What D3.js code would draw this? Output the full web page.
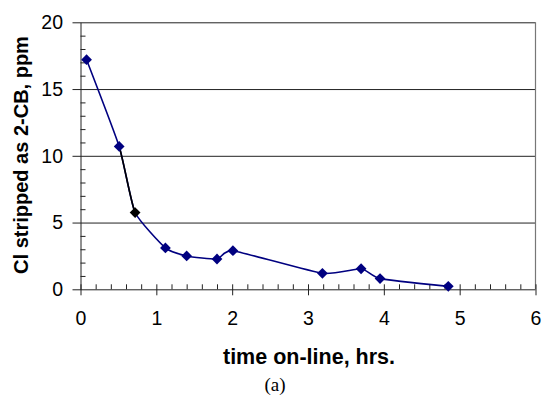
<!DOCTYPE html>
<html>
<head>
<meta charset="utf-8">
<script src="https://cdn.jsdelivr.net/npm/d3@7"></script>
<style>
  html, body { margin: 0; padding: 0; background: #fff; }
  svg { display: block; }
  text { font-family: Arial, "Liberation Sans", sans-serif; fill: #000; }
</style>
</head>
<body>
<svg id="chart" width="545" height="397"></svg>
<script>
// Time on-line (hrs) and chlorine stripped as 2-CB (ppm)
const timeHrs = [0.08, 0.51, 0.72, 1.12, 1.40, 1.80, 2.01, 3.19, 3.70, 3.95, 4.85];
const clPpm   = [17.2, 10.7, 5.75, 3.10, 2.50, 2.27, 2.89, 1.20, 1.54, 0.80, 0.22];
// Index of the sample drawn in black (its marker and the segment leading into it)
const highlightIndex = 2;

const xTicks = [0, 1, 2, 3, 4, 5, 6];
const yTicks = [0, 5, 10, 15, 20];
const xMinorTicks = d3.range(0, 6.001, 0.2).filter(v => Math.abs(v - Math.round(v)) > 1e-6);
const yMinorTicks = d3.range(1, 20).filter(v => v % 5 !== 0);

const xTitle = "time on-line, hrs.";
const yTitle = "Cl stripped as 2-CB, ppm";
const caption = "(a)";

const svg = d3.select("#chart");
const plotLeft = 80.5, plotRight = 535.5, plotTop = 22.3, plotBottom = 289.3;
const x = d3.scaleLinear().domain([0, 6]).range([plotLeft, plotRight]);
const y = d3.scaleLinear().domain([0, 20]).range([plotBottom, plotTop]);
const plotW = plotRight - plotLeft;

const navy = "#000080";
const gridColor = "#222";
const tickFont = "19.5px";

// horizontal gridlines (extend through the outer major ticks)
svg.append("g")
  .attr("transform", `translate(${plotLeft - 8},0)`)
  .call(d3.axisLeft(y).tickValues(yTicks).tickSize(-(plotW + 8)).tickFormat(""))
  .call(g => g.select(".domain").remove())
  .call(g => g.selectAll(".tick line").attr("stroke", gridColor).attr("stroke-width", 1));

// right border of the plot
svg.append("line")
  .attr("x1", plotRight).attr("x2", plotRight)
  .attr("y1", y(20)).attr("y2", y(0))
  .attr("stroke", "#777").attr("stroke-width", 1.2);

// y axis: labels and minor ticks (inside)
svg.append("g")
  .attr("transform", `translate(${plotLeft},0)`)
  .call(d3.axisLeft(y).tickValues(yTicks).tickFormat(d3.format("d")).tickSize(8).tickPadding(9.5).tickSizeOuter(0))
  .call(g => g.select(".domain").attr("stroke", gridColor))
  .call(g => g.selectAll(".tick line").remove())
  .call(g => g.selectAll("text").style("font-size", tickFont).style("font-family", "Arial, 'Liberation Sans', sans-serif"));

svg.append("g")
  .attr("transform", `translate(${plotLeft},0)`)
  .call(d3.axisRight(y).tickValues(yMinorTicks).tickSize(5).tickFormat("").tickSizeOuter(0))
  .call(g => g.select(".domain").remove())
  .call(g => g.selectAll(".tick line").attr("stroke", gridColor));

// x axis: major ticks crossing the axis, minor ticks inside
svg.append("g")
  .attr("transform", `translate(0,${plotBottom})`)
  .call(d3.axisBottom(x).tickValues(xTicks).tickFormat(d3.format("d")).tickSize(6).tickPadding(15.5).tickSizeOuter(0))
  .call(g => g.select(".domain").remove())
  .call(g => g.selectAll(".tick line").attr("y1", -5).attr("stroke", gridColor))
  .call(g => g.selectAll("text").style("font-size", tickFont).style("font-family", "Arial, 'Liberation Sans', sans-serif"));

svg.append("g")
  .attr("transform", `translate(0,${plotBottom})`)
  .call(d3.axisTop(x).tickValues(xMinorTicks).tickSize(5).tickFormat("").tickSizeOuter(0))
  .call(g => g.select(".domain").remove())
  .call(g => g.selectAll(".tick line").attr("stroke", gridColor));

// lightly smoothed data line
const pts = timeHrs.map((t, i) => [t, clPpm[i]]);
const line = d3.line()
  .x(d => x(d[0]))
  .y(d => y(d[1]))
  .curve(d3.curveCardinal.tension(0.5));

svg.append("path")
  .datum(pts)
  .attr("fill", "none")
  .attr("stroke", navy)
  .attr("stroke-width", 1.6)
  .attr("d", line);

// black segment into the highlighted sample: same curve, clipped to that interval
const h = highlightIndex;
svg.append("clipPath").attr("id", "segClip")
  .append("rect")
  .attr("x", x(timeHrs[h - 1])).attr("y", 0)
  .attr("width", x(timeHrs[h]) - x(timeHrs[h - 1])).attr("height", 397);

svg.append("path")
  .datum(pts.slice(Math.max(0, h - 2), h + 2))
  .attr("clip-path", "url(#segClip)")
  .attr("fill", "none")
  .attr("stroke", "#000")
  .attr("stroke-width", 1.6)
  .attr("d", line);

// diamond markers
const diamond = d3.symbol().type(d3.symbolSquare).size(58);
svg.append("g")
  .selectAll("path")
  .data(pts)
  .join("path")
  .attr("d", diamond)
  .attr("transform", d => `translate(${x(d[0])},${y(d[1])}) rotate(45)`)
  .attr("fill", (d, i) => i === h ? "#000" : navy);

// axis titles and caption
svg.append("text")
  .attr("x", 309).attr("y", 363.5)
  .attr("text-anchor", "middle")
  .style("font-size", "21.5px").style("font-weight", "bold")
  .text(xTitle);

svg.append("text")
  .attr("transform", "translate(28,155) rotate(-90)")
  .attr("text-anchor", "middle")
  .style("font-size", "20px").style("font-weight", "bold")
  .text(yTitle);

svg.append("text")
  .attr("x", 275).attr("y", 391)
  .attr("text-anchor", "middle")
  .style("font-family", "'Liberation Serif', 'Times New Roman', serif")
  .style("font-size", "19px")
  .text(caption);
</script>
</body>
</html>
